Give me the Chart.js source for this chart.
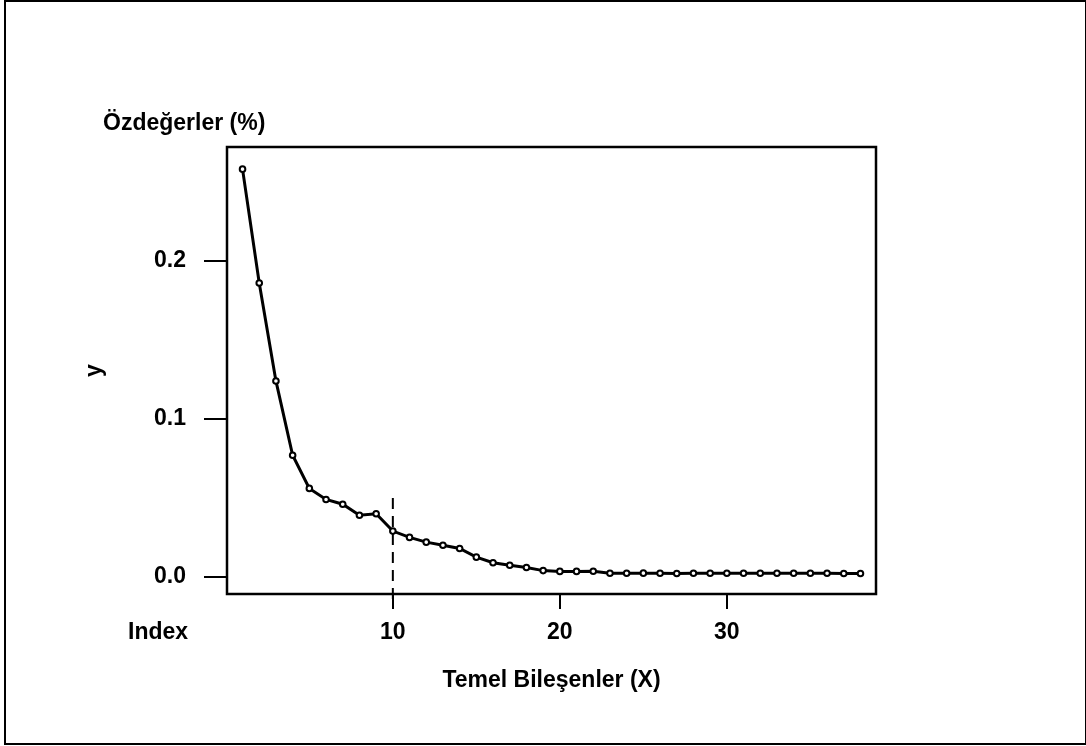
<!DOCTYPE html>
<html lang="tr">
<head>
    <meta charset="UTF-8">
    <title>Özdeğerler</title>
    <style>
        body {
            margin: 0;
            padding: 0;
            background: #fff;
            font-family: "Liberation Sans", Arial, sans-serif;
        }

        #frame {
            position: absolute;
            left: 4px;
            top: 0;
            width: 1079px;
            height: 741px;
            border: 2px solid #000;
        }

        #chartBox {
            position: absolute;
            left: 0;
            top: 0;
            width: 1086px;
            height: 746px;
        }
    </style>
</head>
<body>
    <div id="chartBox">
        <canvas id="screePlot" width="1086" height="746"></canvas>
    </div>
    <div id="frame"></div>

    <script src="https://cdn.jsdelivr.net/npm/chart.js"></script>
    <script>
        const components = [1, 2, 3, 4, 5, 6, 7, 8, 9, 10, 11, 12, 13, 14, 15, 16, 17, 18, 19,
            20, 21, 22, 23, 24, 25, 26, 27, 28, 29, 30, 31, 32, 33, 34, 35, 36, 37, 38];
        const eigenvalues = [0.258, 0.186, 0.124, 0.077, 0.056, 0.049, 0.046, 0.039, 0.040, 0.029,
            0.025, 0.022, 0.020, 0.018, 0.0125, 0.009, 0.0074, 0.006, 0.004, 0.0035,
            0.0035, 0.0036, 0.0023, 0.0023, 0.0024, 0.0023, 0.0022, 0.0023, 0.0023, 0.0023,
            0.0023, 0.0023, 0.0023, 0.0023, 0.0023, 0.0023, 0.0022, 0.0022];
        const xTicks = [10, 20, 30];
        const yTicks = [0, 0.1, 0.2];
        const cutoffIndex = 10;     // dashed line
        const cutoffTop = 0.05;

        const labelFont = { family: "'Liberation Sans', Arial, sans-serif", size: 23, weight: 'bold' };

        // plot frame, cutoff line and loose texts
        const extras = {
            id: 'extras',
            afterDraw(chart) {
                const { ctx, chartArea, scales } = chart;
                ctx.save();
                ctx.strokeStyle = '#000';
                ctx.lineWidth = 2.5;
                ctx.strokeRect(chartArea.left, chartArea.top,
                    chartArea.right - chartArea.left, chartArea.bottom - chartArea.top);

                const xc = scales.x.getPixelForValue(cutoffIndex);
                ctx.lineWidth = 2;
                ctx.setLineDash([11, 7]);
                ctx.beginPath();
                ctx.moveTo(xc, scales.y.getPixelForValue(cutoffTop));
                ctx.lineTo(xc, chartArea.bottom + 7);
                ctx.stroke();
                ctx.setLineDash([]);

                ctx.fillStyle = '#000';
                ctx.font = "bold 23px 'Liberation Sans', Arial, sans-serif";
                ctx.textBaseline = 'middle';
                ctx.textAlign = 'left';
                ctx.fillText('Özdeğerler (%)', 103, 124);
                ctx.fillText('Index', 128, 633);
                ctx.restore();
            }
        };

        new Chart(document.getElementById('screePlot'), {
            type: 'line',
            data: {
                datasets: [{
                    data: components.map((c, i) => ({ x: c, y: eigenvalues[i] })),
                    borderColor: '#000',
                    borderWidth: 3,
                    tension: 0,
                    pointRadius: 2.8,
                    pointBackgroundColor: '#fff',
                    pointBorderColor: '#000',
                    pointBorderWidth: 2
                }]
            },
            options: {
                responsive: false,
                animation: false,
                layout: { padding: { left: 60, right: 210, top: 147, bottom: 52 } },
                plugins: {
                    legend: { display: false },
                    tooltip: { enabled: false }
                },
                scales: {
                    x: {
                        type: 'linear',
                        min: 0.07,
                        max: 38.93,
                        afterBuildTicks: (scale) => { scale.ticks = xTicks.map(v => ({ value: v })); },
                        afterFit: (scale) => { scale.height = 100; },
                        grid: { drawOnChartArea: false, drawTicks: true, tickLength: 15, color: '#000', lineWidth: 2 },
                        border: { display: false },
                        ticks: { color: '#000', font: labelFont, padding: 10, maxRotation: 0 },
                        title: {
                            display: true,
                            text: 'Temel Bileşenler (X)',
                            color: '#000',
                            font: labelFont,
                            padding: { top: 0, bottom: 0 }
                        }
                    },
                    y: {
                        min: -0.0108,
                        max: 0.272,
                        afterBuildTicks: (scale) => { scale.ticks = yTicks.map(v => ({ value: v })); },
                        afterFit: (scale) => { scale.width = 167; },
                        grid: { drawOnChartArea: false, drawTicks: true, tickLength: 23, color: '#000', lineWidth: 2 },
                        border: { display: false },
                        ticks: {
                            color: '#000',
                            font: labelFont,
                            padding: 18,
                            callback: (v) => v.toFixed(1)
                        },
                        title: {
                            display: true,
                            text: 'y',
                            color: '#000',
                            font: labelFont,
                            padding: { top: 21, bottom: 0 }
                        }
                    }
                }
            },
            plugins: [extras]
        });
    </script>
</body>
</html>
